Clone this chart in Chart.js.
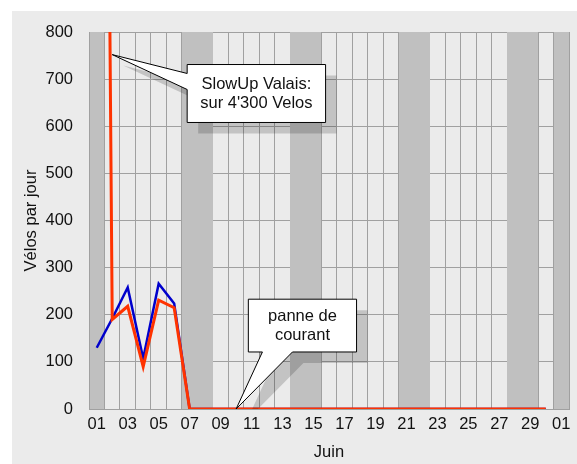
<!DOCTYPE html>
<html>
<head>
<meta charset="utf-8">
<script src="https://cdn.jsdelivr.net/npm/chart.js@4"></script>
<style>
  html, body { margin: 0; padding: 0; background: #fff; }
</style>
</head>
<body>
<canvas id="chart" width="577" height="464"></canvas>
<script>
// data
const days = [1, 2, 3, 4, 5, 6, 7, 8, 9, 10, 11, 12, 13, 14, 15,
  16, 17, 18, 19, 20, 21, 22, 23, 24, 25, 26, 27, 28, 29, 30];
const redValues = [4300, 190, 218, 90, 231, 215, 0, 0, 0, 0, 0, 0, 0, 0, 0,
  0, 0, 0, 0, 0, 0, 0, 0, 0, 0, 0, 0, 0, 0, 0];
const blueValues = [130, 192, 258, 107, 266, 224, 0, 0, 0, 0, 0, 0, 0, 0, 0,
  0, 0, 0, 0, 0, 0, 0, 0, 0, 0, 0, 0, 0, 0, 0];
const shadedDays = [1, 7, 8, 14, 15, 21, 22, 28, 29, 31];
const xTickDays = [1, 3, 5, 7, 9, 11, 13, 15, 17, 19, 21, 23, 25, 27, 29, 31];
const xTickLabels = ["01", "03", "05", "07", "09", "11", "13", "15", "17", "19", "21", "23", "25", "27", "29", "01"];
const yTickValues = [0, 100, 200, 300, 400, 500, 600, 700, 800];

// callouts (anchored in data units)
const callouts = [
  { lines: ["SlowUp Valais:", "sur 4'300 Velos"], box: [6.84, 731, 15.78, 608], tip: [2, 752], side: "left", base: [712, 678] },
  { lines: ["panne de", "courant"], box: [10.79, 233, 17.78, 121], tip: [10, 0], side: "bottom", base: [11.7, 13.64] }
];

const FONT = "'Liberation Sans', Arial, sans-serif";
const GRID = "#a0a0a0";

Chart.defaults.font.family = FONT;
Chart.defaults.font.size = 16.5;
Chart.defaults.color = "#111";

// panel + weekend bands
const bandsPlugin = {
  id: "bands",
  beforeDraw(chart) {
    const ctx = chart.ctx;
    ctx.save();
    ctx.fillStyle = "#ebebeb";
    ctx.fillRect(12, 11, chart.width - 12, chart.height - 11);
    ctx.restore();
  },
  beforeDatasetsDraw(chart) {
    const { ctx, chartArea } = chart;
    const x = chart.scales.x;
    // group consecutive days so a band has no seam
    const runs = [];
    shadedDays.forEach((d) => {
      const last = runs[runs.length - 1];
      if (last && last[1] === d - 1) last[1] = d;
      else runs.push([d, d]);
    });
    ctx.save();
    ctx.fillStyle = "#c0c0c0";
    runs.forEach(([a, b]) => {
      let x0 = Math.round(x.getPixelForValue(a - 0.5));
      const x1 = Math.round(x.getPixelForValue(b + 0.5));
      if (x0 <= chartArea.left + 0.5) x0 = Math.round(chartArea.left) + 1;
      ctx.fillRect(x0, chartArea.top, x1 - x0, chartArea.bottom - chartArea.top);
    });
    ctx.restore();
  }
};

function calloutPath(ctx, c, xs, ys, dx, dy) {
  const l = xs.getPixelForValue(c.box[0]) + dx;
  const t = ys.getPixelForValue(c.box[1]) + dy;
  const r = xs.getPixelForValue(c.box[2]) + dx;
  const b = ys.getPixelForValue(c.box[3]) + dy;
  const tx = xs.getPixelForValue(c.tip[0]) + dx;
  const ty = ys.getPixelForValue(c.tip[1]) + dy;
  ctx.beginPath();
  ctx.moveTo(l, t);
  ctx.lineTo(r, t);
  ctx.lineTo(r, b);
  if (c.side === "bottom") {
    ctx.lineTo(xs.getPixelForValue(c.base[1]) + dx, b);
    ctx.lineTo(tx, ty);
    ctx.lineTo(xs.getPixelForValue(c.base[0]) + dx, b);
    ctx.lineTo(l, b);
  } else {
    ctx.lineTo(l, b);
    ctx.lineTo(l, ys.getPixelForValue(c.base[1]) + dy);
    ctx.lineTo(tx, ty);
    ctx.lineTo(l, ys.getPixelForValue(c.base[0]) + dy);
  }
  ctx.closePath();
  return { cx: (l + r) / 2, cy: (t + b) / 2 };
}

const calloutPlugin = {
  id: "callouts",
  afterDatasetsDraw(chart) {
    const { ctx, chartArea } = chart;
    const xs = chart.scales.x, ys = chart.scales.y;
    // shadows
    ctx.save();
    ctx.beginPath();
    ctx.rect(chartArea.left, chartArea.top, chartArea.right - chartArea.left, chartArea.bottom - chartArea.top);
    ctx.clip();
    ctx.fillStyle = "rgba(0,0,0,0.17)";
    callouts.forEach((c) => {
      calloutPath(ctx, c, xs, ys, 11, 11);
      ctx.fill();
    });
    ctx.restore();
    // boxes
    ctx.save();
    callouts.forEach((c) => {
      const m = calloutPath(ctx, c, xs, ys, 0, 0);
      ctx.fillStyle = "#ffffff";
      ctx.fill();
      ctx.strokeStyle = "#000000";
      ctx.lineWidth = 1;
      ctx.stroke();
      ctx.fillStyle = "#111";
      ctx.font = "16.5px " + FONT;
      ctx.textAlign = "center";
      ctx.textBaseline = "middle";
      const lh = 19;
      c.lines.forEach((line, i) => {
        ctx.fillText(line, m.cx, m.cy + (i - (c.lines.length - 1) / 2) * lh);
      });
    });
    ctx.restore();
  }
};

new Chart(document.getElementById("chart"), {
  type: "line",
  data: {
    datasets: [
      {
        label: "rouge",
        data: days.map((d, i) => ({ x: d, y: redValues[i] })),
        borderColor: "#ff3300",
        borderWidth: 3,
        pointRadius: 0,
        tension: 0
      },
      {
        label: "bleu",
        data: days.map((d, i) => ({ x: d, y: blueValues[i] })),
        borderColor: "#0000cc",
        borderWidth: 2.5,
        pointRadius: 0,
        tension: 0
      }
    ]
  },
  options: {
    responsive: false,
    animation: false,
    layout: { padding: { top: 32, right: 8, left: 0, bottom: 0 } },
    plugins: { legend: { display: false }, tooltip: { enabled: false } },
    scales: {
      x: {
        type: "linear",
        position: "bottom",
        min: 0.5,
        max: 31.5,
        afterBuildTicks: (s) => {
          s.ticks = [0.5].concat(days.map((d) => d + 0.5), [31.5]).map((v) => ({ value: v }));
        },
        ticks: { display: false },
        grid: { color: GRID, drawTicks: false },
        border: { color: GRID }
      },
      xl: {
        type: "linear",
        position: "bottom",
        min: 0.5,
        max: 31.5,
        afterBuildTicks: (s) => {
          s.ticks = xTickDays.map((v) => ({ value: v }));
        },
        ticks: {
          padding: 6,
          autoSkip: false,
          maxRotation: 0,
          callback: (v, i) => xTickLabels[i]
        },
        grid: { display: false, drawTicks: false },
        border: { display: false },
        title: { display: true, text: "Juin", padding: { top: 4, bottom: 2 } },
        afterFit: (s) => { s.height = 55; }
      },
      y: {
        min: 0,
        max: 800,
        afterBuildTicks: (s) => {
          s.ticks = yTickValues.map((v) => ({ value: v }));
        },
        ticks: { padding: 16 },
        grid: { color: GRID, drawTicks: false },
        border: { color: GRID },
        title: { display: true, text: "Vélos par jour", padding: { top: 22 } },
        afterFit: (s) => { s.width = 89; }
      }
    }
  },
  plugins: [bandsPlugin, calloutPlugin]
});
</script>
</body>
</html>
